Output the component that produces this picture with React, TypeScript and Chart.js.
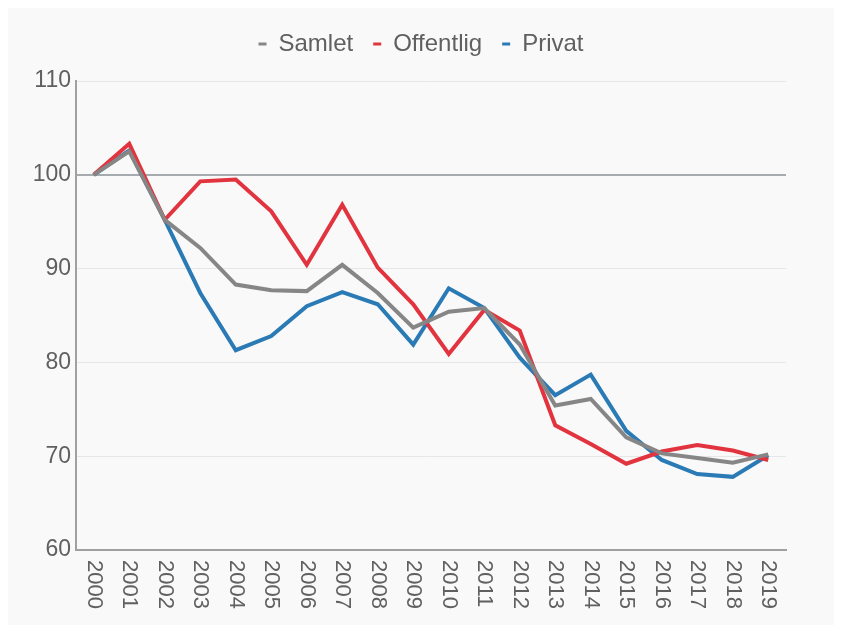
import React, { useEffect, useRef } from 'react';
import { Chart, registerables } from 'chart.js';

Chart.register(...registerables);

const years = ['2000', '2001', '2002', '2003', '2004', '2005', '2006', '2007', '2008', '2009', '2010', '2011', '2012', '2013', '2014', '2015', '2016', '2017', '2018', '2019'];
const samlet = [100, 102.5, 95.2, 92.2, 88.3, 87.7, 87.6, 90.4, 87.4, 83.7, 85.4, 85.8, 81.9, 75.4, 76.1, 72.0, 70.3, 69.8, 69.3, 70.2];
const offentlig = [100, 103.3, 95.2, 99.3, 99.5, 96.1, 90.4, 96.8, 90.1, 86.2, 80.9, 85.6, 83.4, 73.3, 71.3, 69.2, 70.5, 71.2, 70.6, 69.6];
const privat = [100, 102.6, 95.2, 87.4, 81.3, 82.8, 86.0, 87.5, 86.2, 81.9, 87.9, 85.8, 80.5, 76.5, 78.7, 72.7, 69.6, 68.1, 67.8, 70.1];
const yMin = 60;
const yMax = 110;
const yStep = 10;

const FONT = '"Liberation Sans", Arial, Helvetica, sans-serif';
const TEXT = '#606060';

const xLabelPlugin = {
  id: 'xLabelsClockwise',
  afterDraw(chart: any) {
    const scale = chart.scales.x;
    const ctx = chart.ctx;
    ctx.save();
    ctx.font = `22px ${FONT}`;
    ctx.fillStyle = TEXT;
    ctx.textAlign = 'left';
    ctx.textBaseline = 'middle';
    years.forEach((label, i) => {
      const x = scale.getPixelForTick(i);
      ctx.save();
      ctx.translate(x, scale.top + 10);
      ctx.rotate(Math.PI / 2);
      ctx.fillText(label, 0, 0);
      ctx.restore();
    });
    ctx.restore();
  },
};

export default function App() {
  const ref = useRef<HTMLCanvasElement | null>(null);

  useEffect(() => {
    if (!ref.current) return;
    Chart.defaults.font.family = FONT;
    const chart = new Chart(ref.current, {
      type: 'line',
      data: {
        labels: years,
        datasets: [
          { label: 'Samlet', data: samlet, borderColor: '#868686', backgroundColor: '#868686', borderWidth: 4, pointRadius: 0, tension: 0 },
          { label: 'Offentlig', data: offentlig, borderColor: '#e2343f', backgroundColor: '#e2343f', borderWidth: 4, pointRadius: 0, tension: 0 },
          { label: 'Privat', data: privat, borderColor: '#2a7ab5', backgroundColor: '#2a7ab5', borderWidth: 4, pointRadius: 0, tension: 0 },
        ],
      },
      options: {
        responsive: false,
        animation: false,
        layout: { padding: { top: 4, right: 0, left: 0, bottom: 0 } },
        plugins: {
          tooltip: { enabled: false },
          legend: {
            position: 'top',
            labels: {
              usePointStyle: true,
              pointStyle: 'line',
              pointStyleWidth: 8,
              padding: 20,
              color: TEXT,
              font: { size: 24, family: FONT },
              generateLabels: (c: any) =>
                Chart.defaults.plugins.legend.labels.generateLabels(c).map((l: any) => ({ ...l, lineWidth: 3 })),
            },
          },
          subtitle: {
            display: true,
            text: '',
            weight: 500,
            font: { size: 10 },
            padding: { top: 0, bottom: 3 },
          } as any,
          title: {
            display: true,
            text: '',
            position: 'right',
            fullSize: false,
            font: { size: 10 },
            padding: { top: 0, bottom: 36 },
          } as any,
        },
        scales: {
          x: {
            offset: true,
            grid: { display: false },
            border: { display: true, color: '#a0a0a0', width: 2 },
            ticks: { display: false },
            afterFit: (s: any) => { s.height = 75; },
          },
          y: {
            min: yMin,
            max: yMax,
            ticks: { stepSize: yStep, padding: 5, color: TEXT, font: { size: 23, family: FONT } },
            grid: {
              drawTicks: false,
              color: (c: any) => (c.tick && c.tick.value === 100 ? '#a6abb0' : '#e6e6e6'),
              lineWidth: (c: any) => (c.tick && c.tick.value === 100 ? 2 : 1),
            },
            border: { display: true, color: '#a0a0a0', width: 2 },
            afterFit: (s: any) => { s.width = 68; },
          },
        },
      },
      plugins: [xLabelPlugin],
    } as any);
    return () => chart.destroy();
  }, []);

  return (
    <div style={{ width: 826, height: 617, background: '#f9f9f9' }}>
      <canvas ref={ref} width={826} height={617} style={{ display: 'block' }} />
    </div>
  );
}
